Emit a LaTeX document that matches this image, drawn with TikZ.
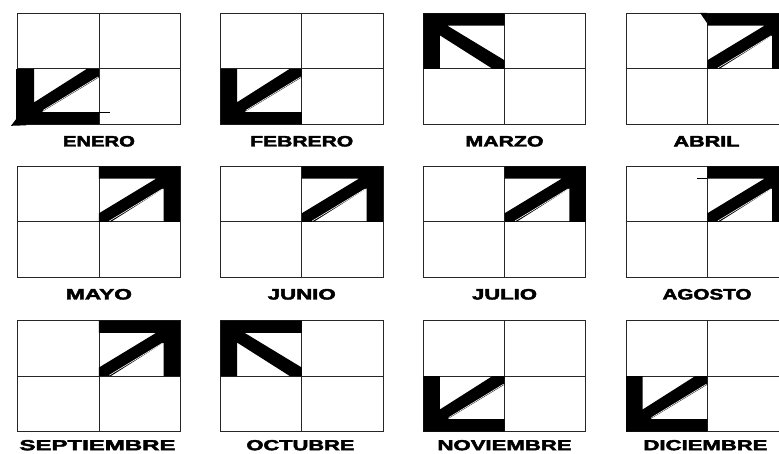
\documentclass[tikz,border=0pt]{standalone}
\usepackage{fontspec}
\usepackage{graphicx}
\newfontfamily\labfont[FakeBold=2.5]{Liberation Sans Bold}
\newcommand\qW{81.25}
\newcommand\qH{55.5}
\newcommand\qth{12.3}
\newcommand\qtv{16.5}
\newcommand\qa{24}
\newcommand\qb{8.5}
\newcommand\qc{12}
\newcommand\qd{22}
% arrow: outer corner (#1,#2), inward x sign #3, inward y sign #4, white-line edge #5 (A or B or N)
\newcommand\monthArrow[5]{%
  \begin{scope}[shift={(#1,#2)}, xscale=#3, yscale=#4]
    \fill[black] (0,0) -- (\qW,0) -- (\qW,\qth) -- (\qa,\qth) -- (\qW,\qH-\qb)
      -- (\qW,\qH) -- (\qW-\qc,\qH) -- (\qtv,\qd) -- (\qtv,\qH) -- (0,\qH) -- cycle;
    \ifx#5A\draw[white, line width=0.6pt] (\qW-\qc+1.6,\qH-0.8) -- (\qtv+1.2,\qd+0.6);\fi
    \ifx#5B\draw[white, line width=0.6pt] (\qa+1.4,\qth+1.6) -- (\qW-0.8,\qH-\qb+0.4);\fi
  \end{scope}}
\newcommand\monthLabel[4]{% name, x, y, content
  \node[inner sep=0pt, anchor=center] (#1) at (#2,#3) {#4};}
\begin{document}
\begin{tikzpicture}[x=1pt,y=-1pt,
  gridbox/.style={draw=black!85, line width=0.9pt, minimum width=162.5pt, minimum height=111pt, inner sep=0pt, outer sep=0pt},
  gridline/.style={draw=black!85, line width=0.9pt}]
\useasboundingbox (0,0) rectangle (779,453);
\clip (0,0) rectangle (779,453);
\fill[white] (0,0) rectangle (779,453);
% grids
\foreach \r/\ty in {0/13.3,1/166.3,2/320.5}{
  \foreach \c/\lx in {0/17.7,1/220.5,2/423.3,3/626.1}{
    \node[gridbox] (g\r\c) at (\lx+81.25,\ty+55.5) {};
    \draw[gridline] (g\r\c.north) -- (g\r\c.south);
    \draw[gridline] (g\r\c.west) -- (g\r\c.east);
  }
}
% arrows row 1
\monthArrow{17.7}{124.3}{1}{-1}{B}
\monthArrow{220.5}{124.3}{1}{-1}{B}
\monthArrow{423.3}{13.3}{1}{1}{N}
\monthArrow{788.6}{13.3}{-1}{1}{A}
% row 2
\monthArrow{180.2}{166.3}{-1}{1}{A}
\monthArrow{383}{166.3}{-1}{1}{A}
\monthArrow{585.8}{166.3}{-1}{1}{A}
\monthArrow{788.6}{166.3}{-1}{1}{A}
% row 3
\monthArrow{180.2}{320.5}{-1}{1}{A}
\monthArrow{220.5}{320.5}{1}{1}{N}
\monthArrow{423.3}{431.5}{1}{-1}{B}
\monthArrow{626.1}{431.5}{1}{-1}{B}
% small irregularities
\fill[black] (17.7,117) -- (11,125.8) -- (26,125.3) -- (26,124.3) -- cycle;
\fill[black] (15.8,68.8) rectangle (17.7,124.3);
\draw[black, line width=0.8pt] (99,112.3) -- (110,112.3);
\fill[black] (700,12.8) -- (707,12.8) -- (707,23) -- cycle;
\draw[black, line width=0.8pt] (697,178.3) -- (707,178.3);
% labels
\monthLabel{l1}{98.95}{141.3}{\resizebox{72pt}{10.5pt}{\labfont ENERO}}
\monthLabel{l2}{301.75}{141.3}{\resizebox{103pt}{10.5pt}{\labfont FEBRERO}}
\monthLabel{l3}{504.55}{141.3}{\resizebox{78pt}{10.5pt}{\labfont MARZO}}
\monthLabel{l4}{706.5}{141.3}{\resizebox{66pt}{10.5pt}{\labfont ABRIL}}
\monthLabel{l5}{98.95}{294.3}{\resizebox{66pt}{10.5pt}{\labfont MAYO}}
\monthLabel{l6}{301.75}{294.3}{\resizebox{68pt}{10.5pt}{\labfont JUNIO}}
\monthLabel{l7}{504.55}{294.3}{\resizebox{65pt}{10.5pt}{\labfont JULIO}}
\monthLabel{l8}{707}{294.3}{\resizebox{89pt}{10.5pt}{\labfont AGOSTO}}
\monthLabel{l9}{97.5}{445.2}{\resizebox{156pt}{10.2pt}{\labfont SEPTIEMBRE}}
\monthLabel{l10}{300.5}{445.2}{\resizebox{108pt}{10.2pt}{\labfont OCTUBRE}}
\monthLabel{l11}{504.55}{445.2}{\resizebox{134pt}{10.2pt}{\labfont NOVIEMBRE}}
\monthLabel{l12}{705.5}{445.2}{\resizebox{124pt}{10.2pt}{\labfont DICIEMBRE}}
\end{tikzpicture}
\end{document}
